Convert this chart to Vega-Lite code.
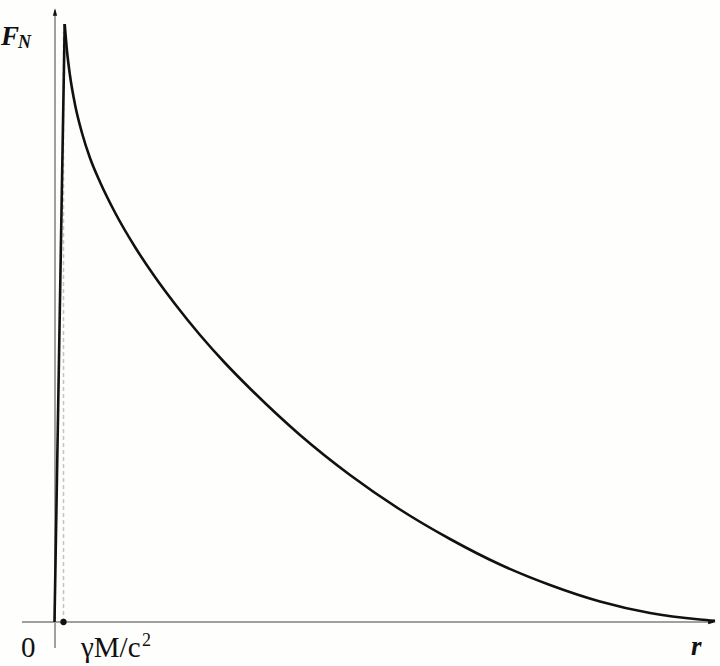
{
  "$schema": "https://vega.github.io/schema/vega-lite/v6.json",
  "width": 720,
  "height": 666,
  "padding": 0,
  "autosize": {"type": "none"},
  "background": "#fefefc",
  "config": {"view": {"stroke": null}},
  "encoding": {
    "x": {"type": "quantitative", "scale": {"domain": [-55, 665], "nice": false, "zero": false}, "axis": null},
    "y": {"type": "quantitative", "scale": {"domain": [-44, 622], "nice": false, "zero": false}, "axis": null}
  },
  "layer": [
    {
      "data": {"values": [
        {"r1": -33, "f1": 0, "r2": 658, "f2": 0},
        {"r1": 0, "f1": -26, "r2": 0, "f2": 612}
      ]},
      "mark": {"type": "rule", "color": "#a0a0a0", "strokeWidth": 2},
      "encoding": {
        "x": {"field": "r1", "type": "quantitative"},
        "y": {"field": "f1", "type": "quantitative"},
        "x2": {"field": "r2"},
        "y2": {"field": "f2"}
      }
    },
    {
      "data": {"values": [{"r1": 8.5, "f1": 0, "r2": 8.5, "f2": 590}]},
      "mark": {"type": "rule", "color": "#c4c4c4", "strokeWidth": 1.5, "strokeDash": [4, 3]},
      "encoding": {
        "x": {"field": "r1", "type": "quantitative"},
        "y": {"field": "f1", "type": "quantitative"},
        "x2": {"field": "r2"},
        "y2": {"field": "f2"}
      }
    },
    {
      "data": {"values": [
        {"r": -0.5, "F": 0},
        {"r": 9.7, "F": 598}
      ]},
      "mark": {"type": "line", "color": "#111111", "strokeWidth": 2.6, "interpolate": "linear"},
      "encoding": {
        "x": {"field": "r", "type": "quantitative"},
        "y": {"field": "F", "type": "quantitative"}
      }
    },
    {
      "data": {"values": [
        {"r": 9.7, "F": 598},
        {"r": 12, "F": 571},
        {"r": 15, "F": 546.5},
        {"r": 20, "F": 517.5},
        {"r": 27, "F": 489},
        {"r": 35, "F": 464},
        {"r": 45, "F": 440},
        {"r": 60, "F": 409.5},
        {"r": 80, "F": 375},
        {"r": 100, "F": 345},
        {"r": 120, "F": 318},
        {"r": 145, "F": 287},
        {"r": 170, "F": 259},
        {"r": 195, "F": 233.5},
        {"r": 245, "F": 187},
        {"r": 295, "F": 147},
        {"r": 345, "F": 112.5},
        {"r": 395, "F": 83},
        {"r": 445, "F": 57.5},
        {"r": 495, "F": 37},
        {"r": 545, "F": 20.5},
        {"r": 595, "F": 9},
        {"r": 645, "F": 2.5},
        {"r": 660, "F": 1.2}
      ]},
      "mark": {"type": "line", "color": "#111111", "strokeWidth": 2.6, "interpolate": "monotone"},
      "encoding": {
        "x": {"field": "r", "type": "quantitative"},
        "y": {"field": "F", "type": "quantitative"}
      }
    },
    {
      "data": {"values": [{"r": 0, "F": 610}]},
      "mark": {"type": "point", "shape": "M0,-1L0.55,1L-0.55,1Z", "filled": true, "color": "#111111", "size": 60, "opacity": 1},
      "encoding": {
        "x": {"field": "r", "type": "quantitative"},
        "y": {"field": "F", "type": "quantitative"}
      }
    },
    {
      "data": {"values": [{"r": 657, "F": 0}]},
      "mark": {"type": "point", "shape": "M1,0L-1,0.55L-1,-0.55Z", "filled": true, "color": "#111111", "size": 60, "opacity": 1},
      "encoding": {
        "x": {"field": "r", "type": "quantitative"},
        "y": {"field": "F", "type": "quantitative"}
      }
    },
    {
      "data": {"values": [{"r": 8.5, "F": 0}]},
      "mark": {"type": "point", "shape": "circle", "filled": true, "color": "#111111", "size": 40, "opacity": 1},
      "encoding": {
        "x": {"field": "r", "type": "quantitative"},
        "y": {"field": "F", "type": "quantitative"}
      }
    },
    {
      "data": {"values": [{"r": -54, "F": 577, "label": "F"}]},
      "mark": {"type": "text", "font": "Liberation Serif", "fontStyle": "italic", "fontWeight": "bold", "fontSize": 27, "align": "left", "baseline": "alphabetic", "color": "#111111"},
      "encoding": {
        "x": {"field": "r", "type": "quantitative"},
        "y": {"field": "F", "type": "quantitative"},
        "text": {"field": "label"}
      }
    },
    {
      "data": {"values": [{"r": 636, "F": -33, "label": "r"}]},
      "mark": {"type": "text", "font": "Liberation Serif", "fontStyle": "italic", "fontWeight": "bold", "fontSize": 27, "align": "left", "baseline": "alphabetic", "color": "#111111"},
      "encoding": {
        "x": {"field": "r", "type": "quantitative"},
        "y": {"field": "F", "type": "quantitative"},
        "text": {"field": "label"}
      }
    },
    {
      "data": {"values": [{"r": -37, "F": 574, "label": "N"}]},
      "mark": {"type": "text", "font": "Liberation Serif", "fontStyle": "italic", "fontWeight": "bold", "fontSize": 18, "align": "left", "baseline": "alphabetic", "color": "#111111"},
      "encoding": {
        "x": {"field": "r", "type": "quantitative"},
        "y": {"field": "F", "type": "quantitative"},
        "text": {"field": "label"}
      }
    },
    {
      "data": {"values": [
        {"r": -34, "F": -35, "label": "0"},
        {"r": 26, "F": -35, "label": "γM/c"}
      ]},
      "mark": {"type": "text", "font": "Liberation Serif", "fontSize": 29, "align": "left", "baseline": "alphabetic", "color": "#111111"},
      "encoding": {
        "x": {"field": "r", "type": "quantitative"},
        "y": {"field": "F", "type": "quantitative"},
        "text": {"field": "label"}
      }
    },
    {
      "data": {"values": [{"r": 87, "F": -24, "label": "2"}]},
      "mark": {"type": "text", "font": "Liberation Serif", "fontSize": 18, "align": "left", "baseline": "alphabetic", "color": "#111111"},
      "encoding": {
        "x": {"field": "r", "type": "quantitative"},
        "y": {"field": "F", "type": "quantitative"},
        "text": {"field": "label"}
      }
    }
  ]
}
